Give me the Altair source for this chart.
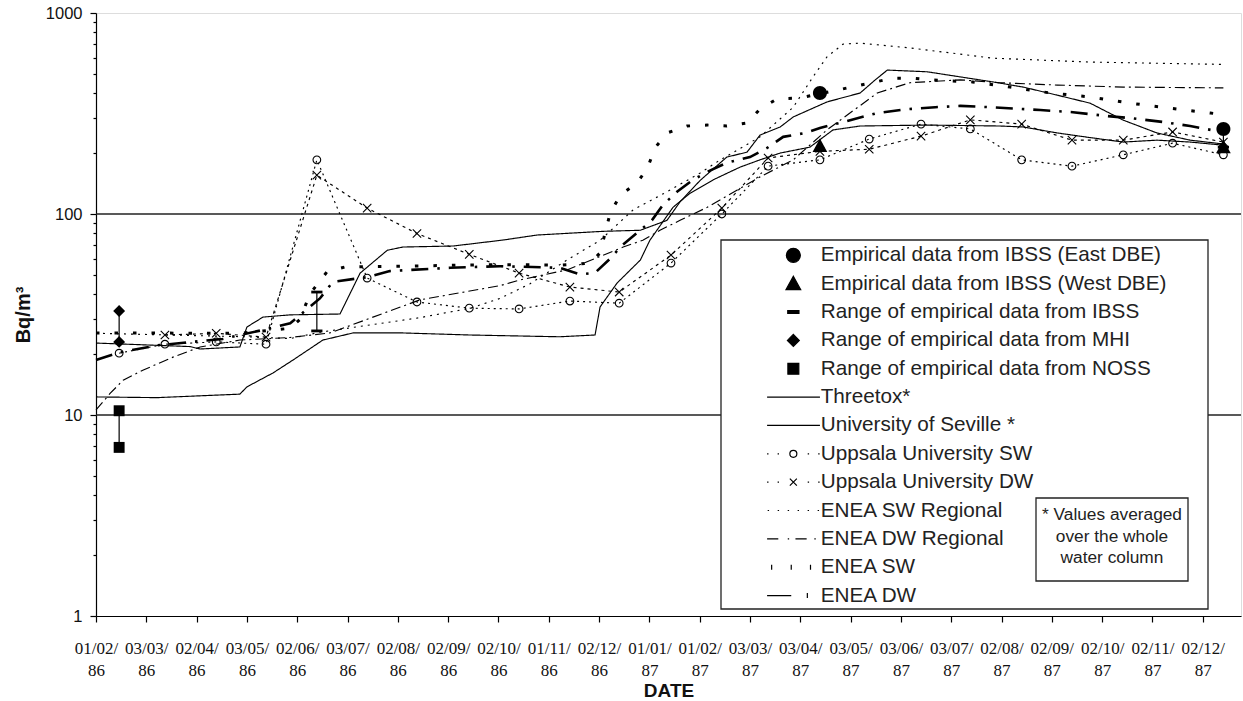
import altair as alt
import pandas as pd

# ---------------- axis labels / ticks ----------------
x_labels = ["01/02/|86", "03/03/|86", "02/04/|86", "03/05/|86", "02/06/|86", "03/07/|86",
            "02/08/|86", "02/09/|86", "02/10/|86", "01/11/|86", "02/12/|86", "01/01/|87",
            "01/02/|87", "03/03/|87", "03/04/|87", "03/05/|87", "03/06/|87", "03/07/|87",
            "02/08/|87", "02/09/|87", "02/10/|87", "02/11/|87", "02/12/|87"]
x_ticks = list(range(23))
x_domain = [0, 22.76]
y_ticks = [1, 2, 3, 4, 5, 6, 7, 8, 9, 10, 20, 30, 40, 50, 60, 70, 80, 90,
           100, 200, 300, 400, 500, 600, 700, 800, 900, 1000]
gridlines = [10, 100]

# ---------------- model series (x in axis-tick units) ----------------
threetox_u = [0, 1.87, 2.07, 2.86, 3.0, 3.32, 3.86, 4.85, 5.25, 5.79, 6.10, 7.10, 8.09, 8.77,
              10.08, 10.82, 11.35, 11.61, 12.01, 12.54, 12.94, 13.20, 13.60, 13.86, 14.53,
              15.19, 15.49, 15.73, 16.52, 17.83, 18.43, 19.11, 19.76, 20.42, 21.09, 21.75, 22.41]
threetox_v = [22.8, 21.9, 21.3, 21.8, 27.4, 30.7, 31.5, 31.8, 50.8, 66, 68.5, 69.3, 74.2, 78.6,
              82, 83, 93, 115, 147, 192, 203, 247, 271, 304, 361,
              400, 465, 520, 510, 454, 428, 390, 356, 293, 253, 233, 223]

seville_u = [0, 1.21, 2.86, 3.0, 3.52, 3.92, 4.51, 5.11, 6.10, 7.44, 9.22, 9.92, 10.02, 10.36,
             10.82, 11.01, 11.47, 11.81, 12.27, 12.80, 13.20, 13.60, 14.19, 14.65, 15.19, 16.52,
             17.97, 18.43, 19.11, 19.76, 20.42, 21.09, 21.75, 22.41]
seville_v = [12.3, 12.2, 12.7, 13.8, 16.2, 18.8, 23.6, 25.6, 25.6, 25.0, 24.5, 25.0, 34.5, 45.4,
             59, 74, 108, 127, 148, 171, 186, 201, 215, 262, 274, 277,
             274, 271, 253, 240, 228, 233, 228, 220]

uppsala_sw_u = [0.46, 1.37, 2.39, 3.38, 4.39, 5.39, 6.38, 7.42, 8.41, 9.42, 10.40, 11.43,
                12.44, 13.36, 14.39, 15.37, 16.40, 17.38, 18.40, 19.40, 20.42, 21.40, 22.41]
uppsala_sw_v = [20.3, 22.5, 23.1, 22.5, 186, 48, 36.5, 34, 33.7, 36.9, 36, 57,
                100, 173, 186, 236, 280, 265, 186, 173, 197, 225, 197]

uppsala_dw_u = [1.37, 2.39, 3.38, 4.39, 5.39, 6.38, 7.42, 8.41, 9.42, 10.40, 11.43,
                12.44, 13.36, 14.39, 15.37, 16.40, 17.38, 18.40, 19.40, 20.42, 21.40, 22.41]
uppsala_dw_v = [25, 25.5, 24.4, 156, 107, 80, 63, 50.8, 43.3, 40.9, 62.5,
                107, 190, 205, 210, 244, 294, 280, 233, 233, 256, 228]

enea_sw_reg_u = [0, 2.98, 3.86, 4.45, 6.44, 7.44, 8.03, 8.63, 9.36, 10.02, 10.68, 11.35, 12.01,
                 12.41, 13.20, 13.86, 14.25, 14.53, 14.85, 15.19, 16.18, 17.83, 19.76, 22.41]
enea_sw_reg_v = [25.5, 24.5, 24.0, 25.8, 30.5, 34, 38, 45, 59, 74, 105, 129, 160,
                 186, 242, 340, 480, 605, 700, 708, 670, 596, 570, 555]

enea_dw_reg_u = [0, 0.28, 0.54, 0.93, 1.53, 2.07, 2.86, 3.86, 4.65, 6.44, 8.03, 8.43, 9.36,
                 10.48, 10.87, 11.21, 11.61, 12.15, 13.20, 13.86, 14.53, 15.53, 16.18, 17.18,
                 17.97, 19.11, 20.42, 22.41]
enea_dw_reg_v = [10.6, 12.8, 14.9, 16.7, 19.4, 21.8, 23.6, 24.3, 25.6, 37.4, 44, 47, 52.7,
                 68.5, 74, 83, 93, 108, 153, 186, 262, 400, 450, 465,
                 450, 438, 428, 424]

enea_sw_u = [0, 2.86, 3.86, 4.06, 4.25, 4.59, 4.95, 6.04, 8.03, 9.22, 9.82, 10.02, 10.22, 10.42,
             10.76, 10.97, 11.11, 11.35, 11.75, 12.15, 12.54, 12.94, 13.20, 13.54, 14.00, 15.39,
             15.83, 16.22, 16.58, 17.42, 18.17, 18.97, 19.76, 20.56, 21.35, 22.15, 22.41]
enea_sw_v = [25.6, 25.5, 27, 30, 40, 51.5, 54.5, 55, 56, 55.7, 57, 64, 101, 124,
             143, 171, 213, 253, 274, 277, 274, 284, 333, 374, 378, 448,
             474, 474, 465, 454, 428, 400, 382, 356, 336, 318, 312]

enea_dw_u = [0, 0.48, 1.21, 2.52, 3.32, 3.86, 4.45, 4.71, 5.39, 5.84, 7.04, 8.03, 9.22, 9.62,
             9.92, 10.22, 10.46, 10.82, 11.05, 11.27, 11.55, 11.87, 12.15, 12.54, 13.0, 13.34,
             13.66, 14.10, 14.39, 14.99, 15.53, 16.12, 16.68, 17.18, 17.77, 18.77, 19.42, 20.10,
             20.56, 21.21, 21.75, 22.41]
enea_dw_v = [18.8, 20.5, 22.2, 23.9, 26.5, 28.6, 38, 46, 48.5, 52, 54, 55, 54, 50,
             51, 60, 70, 83, 93, 111, 129, 148, 162, 180, 192, 213,
             242, 253, 268, 293, 318, 332, 340, 345, 340, 329, 321, 307,
             300, 287, 274, 255]

# ---------------- empirical data ----------------
east_u = [14.39, 22.41]
east_v = [400, 265]
west_u = [14.39, 22.41]
west_v = [218, 215]
ibss_u = [4.39, 22.41]
ibss_lo = [26.2, 215]
ibss_hi = [40.9, 265]
mhi_u = [0.46]
mhi_lo = [23.1]
mhi_hi = [32.9]
noss_u = [0.46]
noss_lo = [6.9]
noss_hi = [10.5]

note_text = "* Values averaged\nover the whole\nwater column"

names = ["Empirical data from IBSS (East DBE)", "Empirical data from IBSS (West DBE)",
         "Range of empirical data from IBSS", "Range of empirical data from MHI",
         "Range of empirical data from NOSS", "Threetox*", "University of Seville *",
         "Uppsala University SW", "Uppsala University DW", "ENEA SW Regional",
         "ENEA DW Regional", "ENEA SW", "ENEA DW"]

# ---------------- shapes (unit coords, size 196 -> 7 px per unit) ----------------
P_CIRCLE = "M1,0A1,1,0,1,1,-1,0A1,1,0,1,1,1,0Z"
P_TRI = "M0,-1.05L1.05,0.85L-1.05,0.85Z"
P_BAR = "M-0.8,-0.2H0.8V0.2H-0.8Z"
P_DIAM = "M0,-0.85L0.85,0L0,0.85L-0.85,0Z"
P_SQ = "M-0.78,-0.78H0.78V0.78H-0.78Z"
P_SMALL_O = "M0.55,0A0.55,0.55,0,1,1,-0.55,0A0.55,0.55,0,1,1,0.55,0Z"
P_SMALL_X = "M-0.6,-0.6L0.6,0.6M-0.6,0.6L0.6,-0.6"
DOTS4 = "M-3.75,0H-3.55M-2.25,0H-2.05M2.05,0H2.25M3.55,0H3.75"
LEG_LINE = "M-3.75,0H3.8"
LEG_UPS_SW = DOTS4 + "M0.5,0A0.5,0.5,0,1,1,-0.5,0A0.5,0.5,0,1,1,0.5,0Z"
LEG_UPS_DW = DOTS4 + "M-0.5,-0.5L0.5,0.5M-0.5,0.5L0.5,-0.5"
LEG_SW_REG = "M-3.67,0H-3.47M-2.24,0H-2.04M-0.81,0H-0.61M0.61,0H0.81M2.04,0H2.24M3.47,0H3.67"
LEG_DW_REG = "M-3.75,0H-2.15M-0.8,0H-0.6M0.3,0H1.9M3.0,0H3.2"
LEG_SW = "M-3.1,-0.35V0.35M-0.3,-0.35V0.35M2.45,-0.35V0.35"
LEG_DW = "M-3.75,0H-0.3M2.0,-0.35V0.35"

leg_shapes = [P_CIRCLE, P_TRI, P_BAR, P_DIAM, P_SQ, LEG_LINE, LEG_LINE, LEG_UPS_SW, LEG_UPS_DW,
              LEG_SW_REG, LEG_DW_REG, LEG_SW, LEG_DW]
leg_fills = ["black"] * 5 + ["transparent"] * 8
leg_strokes = ["black"] * 13

# ---------------- tables ----------------
thin_series = [
    ("Threetox*", threetox_u, threetox_v),
    ("University of Seville *", seville_u, seville_v),
    ("Uppsala University SW", uppsala_sw_u, uppsala_sw_v),
    ("Uppsala University DW", uppsala_dw_u, uppsala_dw_v),
    ("ENEA SW Regional", enea_sw_reg_u, enea_sw_reg_v),
    ("ENEA DW Regional", enea_dw_reg_u, enea_dw_reg_v),
]
thick_series = [
    ("ENEA SW", enea_sw_u, enea_sw_v),
    ("ENEA DW", enea_dw_u, enea_dw_v),
]


def to_rows(series_list):
    rows = []
    for name, us, vs in series_list:
        for i, (u, v) in enumerate(zip(us, vs)):
            rows.append({"series": name, "u": u, "v": v, "i": i})
    return pd.DataFrame(rows)


thin_df = to_rows(thin_series)
thick_df = to_rows(thick_series)
thin_names = [s[0] for s in thin_series]
thin_dash = [[1, 0], [1, 0], [2, 4], [3, 4], [2, 5], [10, 4, 2, 4]]

filled_rows = []
for u, v in zip(east_u, east_v):
    filled_rows.append({"series": names[0], "u": u, "v": v})
for u, v in zip(west_u, west_v):
    filled_rows.append({"series": names[1], "u": u, "v": v})
for u, lo, hi in zip(ibss_u, ibss_lo, ibss_hi):
    filled_rows += [{"series": names[2], "u": u, "v": lo}, {"series": names[2], "u": u, "v": hi}]
for u, lo, hi in zip(mhi_u, mhi_lo, mhi_hi):
    filled_rows += [{"series": names[3], "u": u, "v": lo}, {"series": names[3], "u": u, "v": hi}]
for u, lo, hi in zip(noss_u, noss_lo, noss_hi):
    filled_rows += [{"series": names[4], "u": u, "v": lo}, {"series": names[4], "u": u, "v": hi}]
filled_df = pd.DataFrame(filled_rows)

open_rows = ([{"series": names[7], "u": u, "v": v} for u, v in zip(uppsala_sw_u, uppsala_sw_v)] +
             [{"series": names[8], "u": u, "v": v} for u, v in zip(uppsala_dw_u, uppsala_dw_v)])
open_df = pd.DataFrame(open_rows)

range_df = pd.DataFrame({"u": ibss_u + mhi_u + noss_u,
                         "lo": ibss_lo + mhi_lo + noss_lo,
                         "hi": ibss_hi + mhi_hi + noss_hi})

# ---------------- scales / axes ----------------
xscale = alt.Scale(domain=x_domain, nice=False, zero=False)
yscale = alt.Scale(type="log", domain=[1, 1000], nice=False)
major = "datum.value == 1 || datum.value == 10 || datum.value == 100 || datum.value == 1000"
label_arr = "[" + ",".join("'" + s + "'" for s in x_labels) + "]"

xaxis = alt.Axis(values=x_ticks, labelExpr="split(" + label_arr + "[round(datum.value)], '|')",
                 title="DATE", grid=False, tickSize=6, tickColor="black", tickWidth=1.2,
                 domainColor="black", domainWidth=1.2,
                 labelFont="Liberation Serif", labelFontSize=17, labelLineHeight=22.5,
                 labelPadding=18, labelFlush=False, labelOverlap=False, labelColor="#111",
                 labelBaseline="top",
                 titleFont="Liberation Sans", titleFontSize=19, titleFontWeight="bold",
                 titleColor="#111", titlePadding=3)
yaxis = alt.Axis(values=y_ticks, labelExpr="(" + major + ") ? format(datum.value, 'd') : ''",
                 title="Bq/m³", grid=False,
                 tickSize={"condition": {"test": major, "value": 6}, "value": 3},
                 tickColor="black", tickWidth=1.2, domainColor="black", domainWidth=1.2,
                 labelFont="Liberation Sans", labelFontSize=16.5, labelColor="#111",
                 labelPadding=8, labelOverlap=False, labelFlush=False,
                 titleFont="Liberation Sans", titleFontSize=20, titleFontWeight="bold",
                 titleColor="#111", titlePadding=12)

X = alt.X("u:Q", scale=xscale, axis=xaxis)
Y = alt.Y("v:Q", scale=yscale, axis=yaxis)

W, H = 1145, 603

grid = alt.Chart(pd.DataFrame({"v": gridlines})).mark_rule(color="#222", strokeWidth=1.3).encode(
    y=alt.Y("v:Q", scale=yscale, axis=yaxis))

thin_lines = alt.Chart(thin_df).mark_line(color="black", strokeWidth=1.15).encode(
    x=X, y=Y, detail="series:N", order="i:Q",
    strokeDash=alt.StrokeDash("series:N", scale=alt.Scale(domain=thin_names, range=thin_dash), legend=None),
)
enea_sw_line = alt.Chart(thick_df).transform_filter("datum.series == 'ENEA SW'").mark_line(
    color="black", strokeWidth=3.0, strokeDash=[3.5, 15]).encode(x=X, y=Y, order="i:Q")
enea_dw_line = alt.Chart(thick_df).transform_filter("datum.series == 'ENEA DW'").mark_line(
    color="black", strokeWidth=2.6, strokeDash=[17, 9, 2.5, 9]).encode(x=X, y=Y, order="i:Q")

ranges = alt.Chart(range_df).mark_rule(color="black", strokeWidth=1.2).encode(
    x=X, y=alt.Y("lo:Q", scale=yscale, axis=yaxis), y2="hi:Q")

filled = alt.Chart(filled_df).mark_point(filled=True, color="black", size=196, opacity=1).encode(
    x=X, y=Y,
    shape=alt.Shape("series:N", scale=alt.Scale(domain=names[:5], range=[P_CIRCLE, P_TRI, P_BAR, P_DIAM, P_SQ]),
                    legend=None))

opened = alt.Chart(open_df).mark_point(filled=False, color="black", size=196, strokeWidth=1.1, opacity=1).encode(
    x=X, y=Y,
    shape=alt.Shape("series:N", scale=alt.Scale(domain=names[7:9], range=[P_SMALL_O, P_SMALL_X]),
                    legend=None))

one = pd.DataFrame({"k": [0]})
legend_bg = alt.Chart(one).mark_rect(fill="white", stroke="#222", strokeWidth=1.3).encode(
    x=alt.value(625), x2=alt.value(1112), y=alt.value(227), y2=alt.value(596))
note_box = alt.Chart(one).mark_rect(fill="white", stroke="#222", strokeWidth=1.3).encode(
    x=alt.value(940), x2=alt.value(1092), y=alt.value(485), y2=alt.value(568))
note = alt.Chart(one).mark_text(text=note_text, lineBreak="\n", lineHeight=21.5, font="Liberation Sans",
                                fontSize=17.3, color="#222", align="center", baseline="middle").encode(
    x=alt.value(1016), y=alt.value(502))

legend_layer = alt.Chart(pd.DataFrame({"series": names})).transform_filter("false").mark_point(
    color="black", filled=False, size=196, opacity=1, strokeWidth=1.2).encode(
    shape=alt.Shape("series:N", scale=alt.Scale(domain=names, range=leg_shapes),
                    legend=alt.Legend(orient="none", legendX=687, legendY=232, title=None,
                                      padding=0, labelFont="Liberation Sans", labelFontSize=20.7,
                                      labelColor="#222", labelLimit=0, labelOffset=17,
                                      symbolSize=196, symbolStrokeWidth=1.2, symbolStrokeColor="black",
                                      rowPadding=6.35, symbolOffset=0)),
    fill=alt.Fill("series:N", scale=alt.Scale(domain=names, range=leg_fills), legend=None),
    stroke=alt.Stroke("series:N", scale=alt.Scale(domain=names, range=leg_strokes), legend=None),
)

chart = alt.layer(grid, thin_lines, enea_sw_line, enea_dw_line, ranges, filled, opened,
                  legend_bg, note_box, note, legend_layer).resolve_scale(
    shape="independent", fill="independent", stroke="independent", strokeDash="independent"
).properties(
    width=W, height=H,
    autosize=alt.AutoSizeParams(type="none"),
    padding={"left": 96, "top": 13, "right": 2, "bottom": 85},
).configure_view(stroke="#111", strokeWidth=1.3).configure(font="Liberation Sans", background="white"
).configure_axisX(labelFont="Liberation Serif")

chart.save("out.html", embed_options={"renderer": "svg", "actions": False})
